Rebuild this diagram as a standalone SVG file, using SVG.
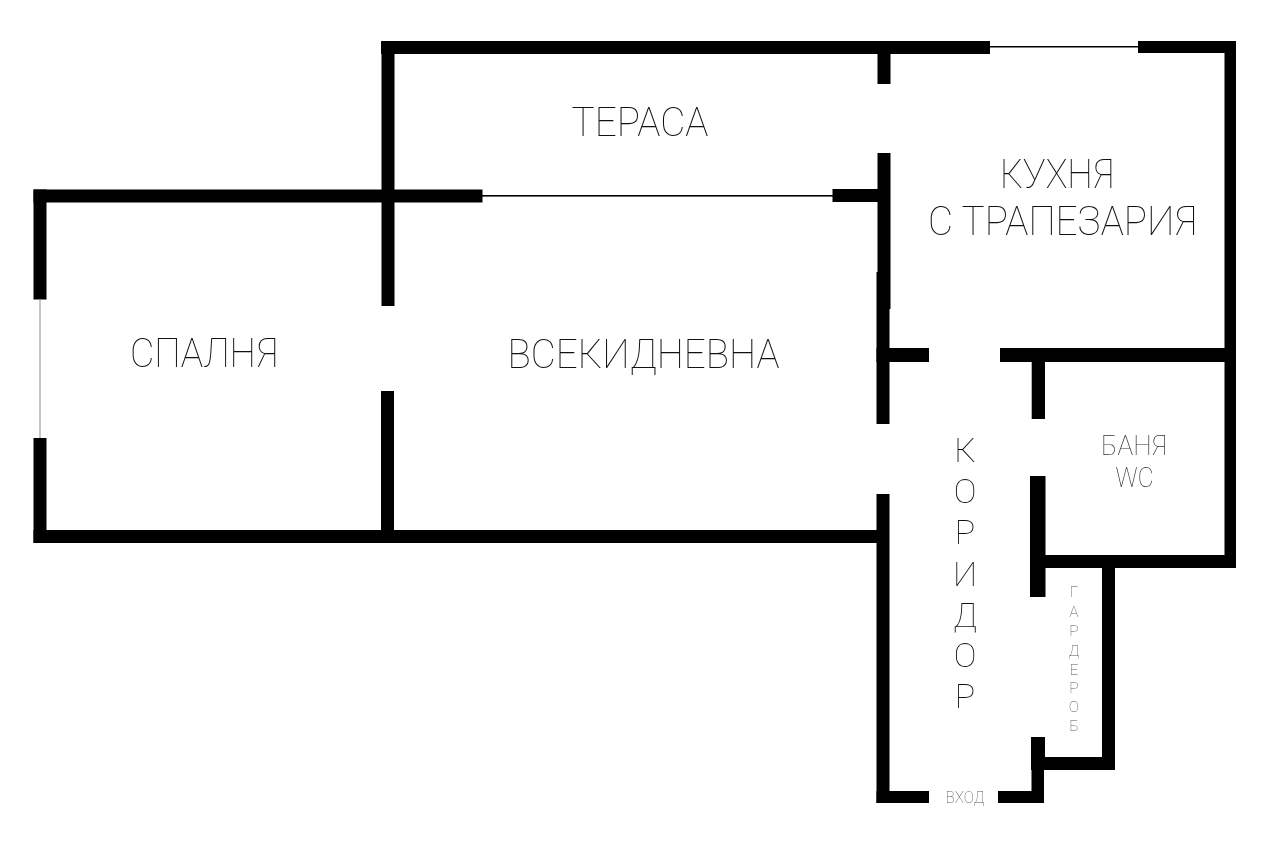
<svg xmlns="http://www.w3.org/2000/svg" width="1280" height="861" viewBox="0 0 1280 861">
<style>
.w{fill:#000}
.t{font-family:"Roboto","Liberation Sans",sans-serif;font-weight:100;fill:#111;text-anchor:middle}
.big{font-size:40px}
.g{fill:#555}
</style>
<defs>
<filter id="gray" x="0" y="0" width="1280" height="861" filterUnits="userSpaceOnUse" color-interpolation-filters="sRGB"><feOffset dx="0" dy="0"/></filter>
</defs>
<rect width="1280" height="861" fill="#fff"/>
<g id="walls">
<rect class="w" x="381" y="41" width="609" height="13"/>
<rect class="w" x="1138" y="41" width="98" height="12"/>
<rect class="w" x="1224.500" y="41" width="11.500" height="527"/>
<rect class="w" x="381.500" y="41" width="13" height="265"/>
<rect class="w" x="877.500" y="41" width="13" height="43"/>
<rect class="w" x="877.500" y="153" width="13" height="156"/>
<rect class="w" x="876.500" y="272" width="13" height="152"/>
<rect class="w" x="33.500" y="189.500" width="449" height="13"/>
<rect class="w" x="832.500" y="189" width="46" height="13"/>
<rect class="w" x="33.500" y="189.500" width="13" height="110"/>
<rect class="w" x="33.500" y="438" width="13" height="105"/>
<rect class="w" x="33.500" y="530" width="844" height="13"/>
<rect class="w" x="381" y="391" width="13" height="152"/>
<rect class="w" x="876.500" y="348" width="52.500" height="14"/>
<rect class="w" x="1000" y="348" width="236" height="14"/>
<rect class="w" x="1031.700" y="348" width="13.300" height="71"/>
<rect class="w" x="1030" y="476" width="15.500" height="121"/>
<rect class="w" x="1030" y="555" width="206" height="13"/>
<rect class="w" x="1102" y="555" width="13" height="215"/>
<rect class="w" x="1031" y="757" width="84" height="13"/>
<rect class="w" x="1031" y="737" width="14" height="33"/>
<rect class="w" x="1031.500" y="757" width="12.500" height="46"/>
<rect class="w" x="998" y="791" width="46" height="12"/>
<rect class="w" x="876.500" y="494" width="13" height="309"/>
<rect class="w" x="876.500" y="791" width="52.500" height="12"/>
</g>
<g id="windows">
<rect class="w" x="990" y="46" width="148" height="1.500"/>
<rect class="w" x="482" y="195" width="351" height="1.600"/>
<rect x="39.500" y="299" width="1" height="139" fill="#8c8c8c"/>
</g>
<g id="labels" filter="url(#gray)">
<text class="t big" x="640" y="136" textLength="137" lengthAdjust="spacingAndGlyphs">ТЕРАСА</text>
<text class="t big" x="1057" y="188" textLength="114" lengthAdjust="spacingAndGlyphs">КУХНЯ</text>
<text class="t big" x="1062.500" y="235" textLength="269" lengthAdjust="spacingAndGlyphs">С ТРАПЕЗАРИЯ</text>
<text class="t big" x="204" y="367" textLength="148" lengthAdjust="spacingAndGlyphs">СПАЛНЯ</text>
<text class="t big" x="643.500" y="367.500" textLength="272" lengthAdjust="spacingAndGlyphs">ВСЕКИДНЕВНА</text>
<text class="t" style="font-size:28px;fill:#333" x="1134" y="455" textLength="66" lengthAdjust="spacingAndGlyphs">БАНЯ</text>
<text class="t" style="font-size:28px;fill:#333" x="1134.500" y="487" textLength="38" lengthAdjust="spacingAndGlyphs">WC</text>
<text class="t" style="font-size:34px" x="965 965 965 965 965 965 965" y="462 503 544 586 627 667 708">КОРИДОР</text>
<text class="t g" style="font-size:15.500px" x="1074 1074 1074 1074 1074 1074 1074 1074" y="597 617 636 656 675 693 712 731">ГАРДЕРОБ</text>
<text class="t g" style="font-size:16.500px" x="965" y="803" textLength="39" lengthAdjust="spacingAndGlyphs">ВХОД</text>
</g>
</svg>
